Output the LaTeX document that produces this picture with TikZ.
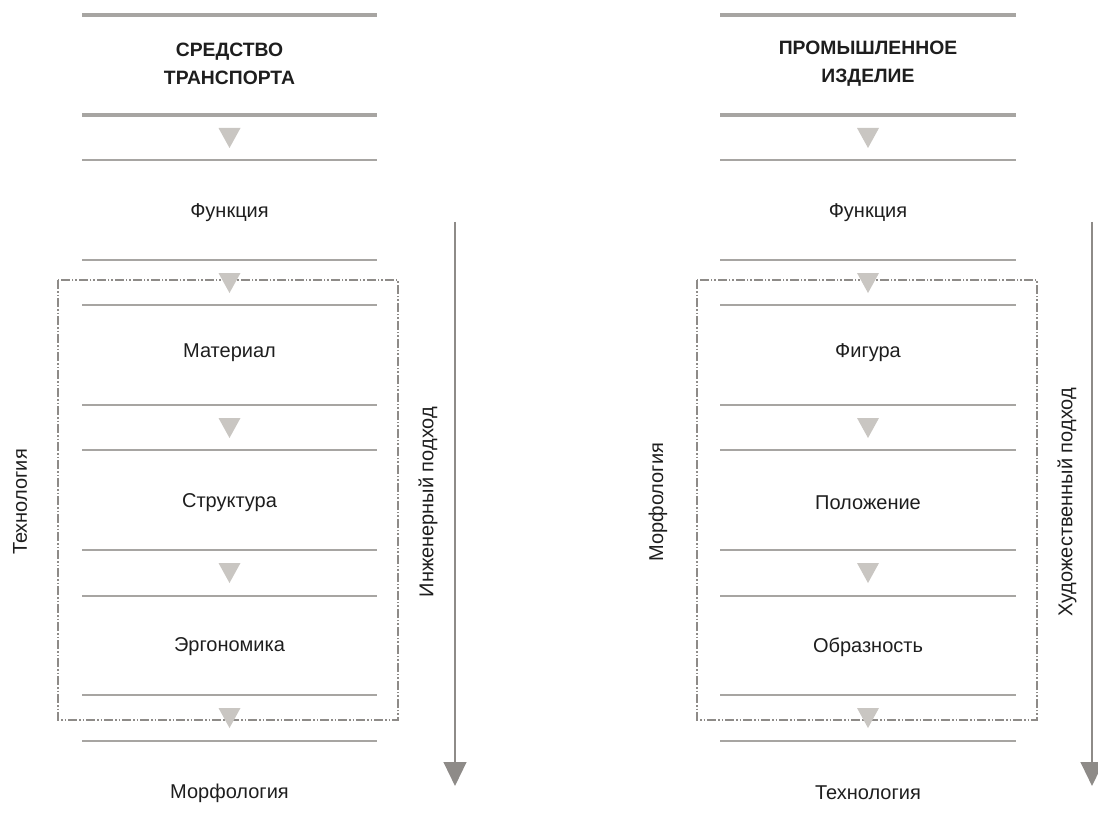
\documentclass[tikz,border=0pt]{standalone}
\usepackage{fontspec}
\setmainfont{Liberation Sans}
\usepackage{xcolor}
\usepackage{tikz}
\usetikzlibrary{arrows.meta, positioning}

\definecolor{linegray}{HTML}{A7A5A2}
\definecolor{trigray}{HTML}{C9C6C2}
\definecolor{arrgray}{HTML}{8E8B88}
\definecolor{txtgray}{HTML}{1E1E1E}

\begin{document}
\begin{tikzpicture}[
    x=0.75pt, y=-0.75pt,
    lbl/.style={text=txtgray, font=\fontsize{15}{18}\selectfont, inner sep=0pt},
    title/.style={text=txtgray, font=\fontsize{14.5}{21}\selectfont\bfseries,
                  align=center, inner sep=0pt},
    sep/.style={draw=linegray, line width=1.7pt},
    thicksep/.style={draw=linegray, line width=3pt},
    dashbox/.style={draw=arrgray, line width=0.8pt,
                    dash pattern=on 7pt off 1.5pt on 1pt off 1.5pt on 1pt off 1.5pt},
    bigarr/.style={draw=arrgray, line width=1.8pt,
                   -{Triangle[width=17pt, length=18pt]}},
    downtri/.pic={\fill[trigray] (-11,-10) -- (11,-10) -- (0,10) -- cycle;}
]
\useasboundingbox (0,0) rectangle (1098,834);

% left column
\draw[thicksep] (82,15) -- (377,15);
\node[title] (ltitle) at (229.5,64) {СРЕДСТВО\\ТРАНСПОРТА};
\draw[thicksep] (82,115) -- (377,115);
\pic at (229.5,138) {downtri};
\draw[sep] (82,160) -- (377,160);
\node[lbl] (lfunc) at (229.5,213) {Функция};
\draw[sep] (82,260) -- (377,260);
\draw[sep] (82,305) -- (377,305);
\node[lbl] (lmat) at (229.5,353) {Материал};
\draw[sep] (82,405) -- (377,405);
\pic at (229.5,428) {downtri};
\draw[sep] (82,450) -- (377,450);
\node[lbl] (lstruct) at (229.5,503) {Структура};
\draw[sep] (82,550) -- (377,550);
\pic at (229.5,573) {downtri};
\draw[sep] (82,596) -- (377,596);
\node[lbl] (lergo) at (229.5,647) {Эргономика};
\draw[sep] (82,695) -- (377,695);
\draw[sep] (82,741) -- (377,741);
\node[lbl] (lmorph) at (229.5,793) {Морфология};

\draw[dashbox] (58,280) rectangle (398,720);
\pic at (229.5,283) {downtri};
\pic at (229.5,718) {downtri};

\node[lbl, rotate=90] (ltech) at (20,502) {Технология};
\coordinate (lstart) at (455,222);
\coordinate (lend) at (455,786);
\draw[bigarr] (lstart) -- (lend);
\node[lbl, rotate=90] (lapproach) at (428,502) {Инженерный подход};

% right column
\draw[thicksep] (720,15) -- (1016,15);
\node[title] (rtitle) at (868,64) {ПРОМЫШЛЕННОЕ\\ИЗДЕЛИЕ};
\draw[thicksep] (720,115) -- (1016,115);
\pic at (868,138) {downtri};
\draw[sep] (720,160) -- (1016,160);
\node[lbl] (rfunc) at (868,213) {Функция};
\draw[sep] (720,260) -- (1016,260);
\draw[sep] (720,305) -- (1016,305);
\node[lbl] (rfig) at (868,353) {Фигура};
\draw[sep] (720,405) -- (1016,405);
\pic at (868,428) {downtri};
\draw[sep] (720,450) -- (1016,450);
\node[lbl] (rpos) at (868,503) {Положение};
\draw[sep] (720,550) -- (1016,550);
\pic at (868,573) {downtri};
\draw[sep] (720,596) -- (1016,596);
\node[lbl] (rimage) at (868,647) {Образность};
\draw[sep] (720,695) -- (1016,695);
\draw[sep] (720,741) -- (1016,741);
\node[lbl] (rtech) at (868,793) {Технология};

\draw[dashbox] (697,280) rectangle (1037,720);
\pic at (868,283) {downtri};
\pic at (868,718) {downtri};

\node[lbl, rotate=90] (rmorph) at (658,502) {Морфология};
\coordinate (rstart) at (1092,222);
\coordinate (rend) at (1092,786);
\draw[bigarr] (rstart) -- (rend);
\node[lbl, rotate=90] (rapproach) at (1067,502) {Художественный подход};
\end{tikzpicture}
\end{document}
